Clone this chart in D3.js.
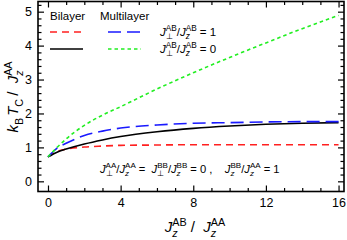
<!DOCTYPE html>
<html>
<head>
<meta charset="utf-8">
<script src="https://cdn.jsdelivr.net/npm/d3@7/dist/d3.min.js"></script>
<style>
  body { margin: 0; background: #fff; }
  svg { display: block; font-family: "Liberation Sans", Arial, Helvetica, sans-serif; }
  text { white-space: pre; }
</style>
</head>
<body>
<div id="chart"></div>
<script>
var W = 347, H = 240;
var margin = { top: 1.5, right: 3, bottom: 48.5, left: 38 };
var width = W - margin.left - margin.right;
var height = H - margin.top - margin.bottom;

// J_z^AB / J_z^AA
var xVals = [0, 0.5, 1, 2, 3, 4, 6, 8, 10, 12, 14, 16];
// bilayer, J_perp^AB/J_z^AB = 1
var biOne  = [0.72, 0.88, 0.95, 1.01, 1.04, 1.06, 1.07, 1.08, 1.08, 1.08, 1.08, 1.08];
// bilayer, J_perp^AB/J_z^AB = 0
var biZero = [0.72, 0.86, 0.95, 1.10, 1.22, 1.32, 1.46, 1.56, 1.63, 1.68, 1.71, 1.73];
// multilayer, = 1
var mlOne  = [0.72, 0.98, 1.12, 1.35, 1.48, 1.57, 1.66, 1.71, 1.73, 1.75, 1.76, 1.76];
// multilayer, = 0
var mlZero = [0.72, 1.00, 1.25, 1.65, 1.95, 2.20, 2.72, 3.20, 3.65, 4.08, 4.50, 4.89];

var xMajor = [0, 4, 8, 12, 16];
var yMajor = [0, 1, 2, 3, 4, 5];

var series = [
  { vals: biOne,  color: "#ff2020", dash: "7,5" },
  { vals: biZero, color: "#000000", dash: null },
  { vals: mlOne,  color: "#1a1aff", dash: "13,6" },
  { vals: mlZero, color: "#22ee22", dash: "3.5,3" }
];

var svg = d3.select("#chart").append("svg")
  .attr("width", W).attr("height", H);
var g = svg.append("g")
  .attr("transform", "translate(" + margin.left + "," + margin.top + ")");

var x = d3.scaleLinear().domain([-0.55, 16.3]).range([0, width]);
var y = d3.scaleLinear().domain([-0.3, 5.3]).range([height, 0]);

var xMinor = d3.range(0, 17, 1).filter(function(d){ return xMajor.indexOf(d) < 0; });
var yMinor = d3.range(0, 5.3, 0.2).filter(function(d){ return Math.abs(d - Math.round(d)) > 0.01; });

function addAxis(axis, tr) {
  var a = g.append("g").attr("transform", tr).call(axis);
  a.select(".domain").remove();
  a.selectAll("line").attr("stroke", "#000").attr("stroke-width", 1.2);
  a.selectAll("text").attr("font-size", 12.5).attr("fill", "#000")
    .attr("font-family", "Liberation Sans, Arial, sans-serif");
  return a;
}
var MJ = 6, MN = 3.5;
addAxis(d3.axisBottom(x).tickValues(xMajor).tickSizeInner(-MJ).tickSizeOuter(0).tickPadding(7).tickFormat(d3.format("d")), "translate(0," + height + ")");
addAxis(d3.axisBottom(x).tickValues(xMinor).tickSizeInner(-MN).tickSizeOuter(0).tickFormat(""), "translate(0," + height + ")");
addAxis(d3.axisTop(x).tickValues(xMajor).tickSizeInner(-MJ).tickSizeOuter(0).tickFormat(""), "translate(0,0)");
addAxis(d3.axisTop(x).tickValues(xMinor).tickSizeInner(-MN).tickSizeOuter(0).tickFormat(""), "translate(0,0)");
addAxis(d3.axisLeft(y).tickValues(yMajor).tickSizeInner(-MJ).tickSizeOuter(0).tickPadding(6).tickFormat(d3.format("d")), "translate(0,0)");
addAxis(d3.axisLeft(y).tickValues(yMinor).tickSizeInner(-MN).tickSizeOuter(0).tickFormat(""), "translate(0,0)");
addAxis(d3.axisRight(y).tickValues(yMajor).tickSizeInner(-MJ).tickSizeOuter(0).tickFormat(""), "translate(" + width + ",0)");
addAxis(d3.axisRight(y).tickValues(yMinor).tickSizeInner(-MN).tickSizeOuter(0).tickFormat(""), "translate(" + width + ",0)");

g.append("rect")
  .attr("width", width).attr("height", height)
  .attr("fill", "none").attr("stroke", "#000").attr("stroke-width", 1.6);

var line = d3.line()
  .x(function(d){ return x(d[0]); })
  .y(function(d){ return y(d[1]); })
  .curve(d3.curveMonotoneX);

series.forEach(function(s) {
  g.append("path")
    .datum(xVals.map(function(v, i){ return [v, s.vals[i]]; }))
    .attr("d", line)
    .attr("fill", "none")
    .attr("stroke", s.color)
    .attr("stroke-width", 1.6)
    .attr("stroke-dasharray", s.dash);
});

// text with super/subscripts; tokens: {t, i, sup, sub, subi, sp}
function mtext(parent, x0, y0, tokens, fs) {
  var cx = x0;
  tokens.forEach(function(tk) {
    if (tk.t) {
      var el = parent.append("text").attr("x", cx).attr("y", y0)
        .attr("font-size", fs).attr("font-style", tk.i ? "italic" : "normal").text(tk.t);
      cx += el.node().getComputedTextLength();
    }
    var w = 0;
    if (tk.sup) {
      var s = parent.append("text").attr("x", cx).attr("y", y0 - fs * 0.42)
        .attr("font-size", fs * 0.72).text(tk.sup);
      w = Math.max(w, s.node().getComputedTextLength());
    }
    if (tk.sub) {
      var b = parent.append("text").attr("x", cx).attr("y", y0 + fs * 0.3)
        .attr("font-size", fs * 0.72).attr("font-style", tk.subi ? "italic" : "normal").text(tk.sub);
      w = Math.max(w, b.node().getComputedTextLength());
    }
    cx += w;
    if (tk.sp) cx += tk.sp;
  });
  return cx - x0;
}

// legend
var leg = svg.append("g");
leg.append("text").attr("x", 50).attr("y", 20).attr("font-size", 11.5).text("Bilayer");
leg.append("text").attr("x", 100).attr("y", 20).attr("font-size", 11.5).text("Multilayer");
var legLines = [
  { s: series[0], x: 50, y: 32 },
  { s: series[1], x: 50, y: 49 },
  { s: series[2], x: 108, y: 32 },
  { s: series[3], x: 108, y: 49 }
];
legLines.forEach(function(l) {
  leg.append("line").attr("x1", l.x).attr("x2", l.x + 33).attr("y1", l.y).attr("y2", l.y)
    .attr("stroke", l.s.color).attr("stroke-width", 1.6).attr("stroke-dasharray", l.s.dash);
});
var ratioAB = function(v) {
  return [{ t: "J", i: true, sup: "AB", sub: "\u22A5" }, { t: "/" },
          { t: "J", i: true, sup: "AB", sub: "z", subi: true, sp: 3 }, { t: "= " + v }];
};
mtext(leg, 160, 36, ratioAB("1"), 11.5);
mtext(leg, 160, 53, ratioAB("0"), 11.5);

// annotation
var ann = svg.append("g");
mtext(ann, 100, 173, [
  { t: "J", i: true, sup: "AA", sub: "\u22A5" }, { t: "/" },
  { t: "J", i: true, sup: "AA", sub: "z", subi: true, sp: 3 }, { t: "=  " },
  { t: "J", i: true, sup: "BB", sub: "\u22A5" }, { t: "/" },
  { t: "J", i: true, sup: "BB", sub: "z", subi: true, sp: 3 }, { t: "= 0 ,    " },
  { t: "J", i: true, sup: "BB", sub: "z", subi: true }, { t: "/" },
  { t: "J", i: true, sup: "AA", sub: "z", subi: true, sp: 3 }, { t: "= 1" }
], 11.2);

// x title
var xt = svg.append("g");
var xw = mtext(xt, 0, 0, [
  { t: "J", i: true, sup: "AB", sub: "z", subi: true, sp: 4 }, { t: "/  " },
  { t: "J", i: true, sup: "AA", sub: "z", subi: true }
], 15);
xt.attr("transform", "translate(" + (195 - xw / 2) + ",232)");

// y title
var yt = svg.append("g");
var yw = mtext(yt, 0, 0, [
  { t: "k", i: true, sub: "B", sp: 2 }, { t: "T", i: true, sub: "C", sp: 3 }, { t: "/  " },
  { t: "J", i: true, sup: "AA", sub: "z", subi: true }
], 15);
yt.attr("transform", "translate(18,97) rotate(-90) translate(" + (-yw / 2) + ",0)");
</script>
</body>
</html>
